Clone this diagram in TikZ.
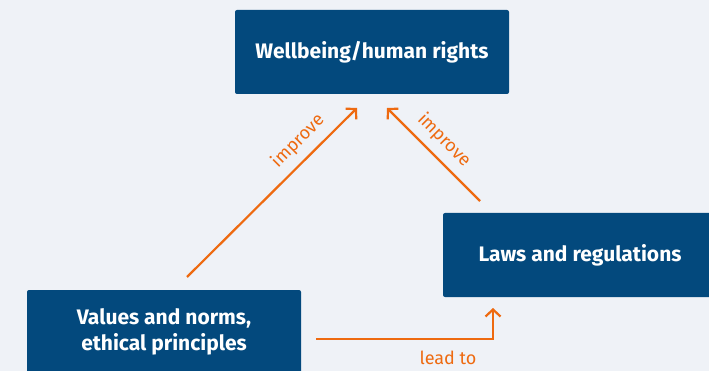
\documentclass[tikz,border=0pt]{standalone}
\usepackage{fontspec}
\setmainfont{Fira Sans}
\usetikzlibrary{arrows.meta}
\definecolor{bg}{HTML}{EFF2F7}
\definecolor{boxblue}{HTML}{03497D}
\definecolor{arr}{HTML}{EE6A10}
\begin{document}
\begin{tikzpicture}[x=1pt,y=-1pt,
  box/.style={fill=boxblue,rounded corners=2pt,minimum width=274pt,minimum height=84pt,
    text=white,font=\fontsize{21}{26}\selectfont\bfseries,align=center,inner sep=0pt},
  conn/.style={draw=arr,line width=2.2pt,-{Straight Barb[length=7pt,width=15pt,line width=2.2pt]}},
  lbl/.style={text=arr,font=\fontsize{18}{20}\selectfont,inner sep=0pt}]
\fill[bg] (0,0) rectangle (709,371);
\clip (0,0) rectangle (709,371);
\node[box] (top) at (372,52) {Wellbeing/human rights};
\node[box] (laws) at (580,255) {Laws and regulations};
\node[box] (values) at (164,332) {Values and norms,\\ethical principles};
\coordinate (a1s) at (187,277);
\coordinate (a1e) at (357,108);
\coordinate (a2s) at (480,201);
\coordinate (a2e) at (387,108);
\coordinate (a3s) at (316,339);
\coordinate (a3c) at (493,339);
\coordinate (a3e) at (493,308);
\draw[conn] (a1s) -- (a1e);
\draw[conn] (a2s) -- (a2e);
\draw[conn] (a3s) -- (a3c) -- (a3e);
\node[lbl,rotate=45] (l1) at (298,141) {improve};
\node[lbl,rotate=-45] (l2) at (444,140) {improve};
\node[lbl] (l3) at (448,358) {lead to};
\end{tikzpicture}
\end{document}
